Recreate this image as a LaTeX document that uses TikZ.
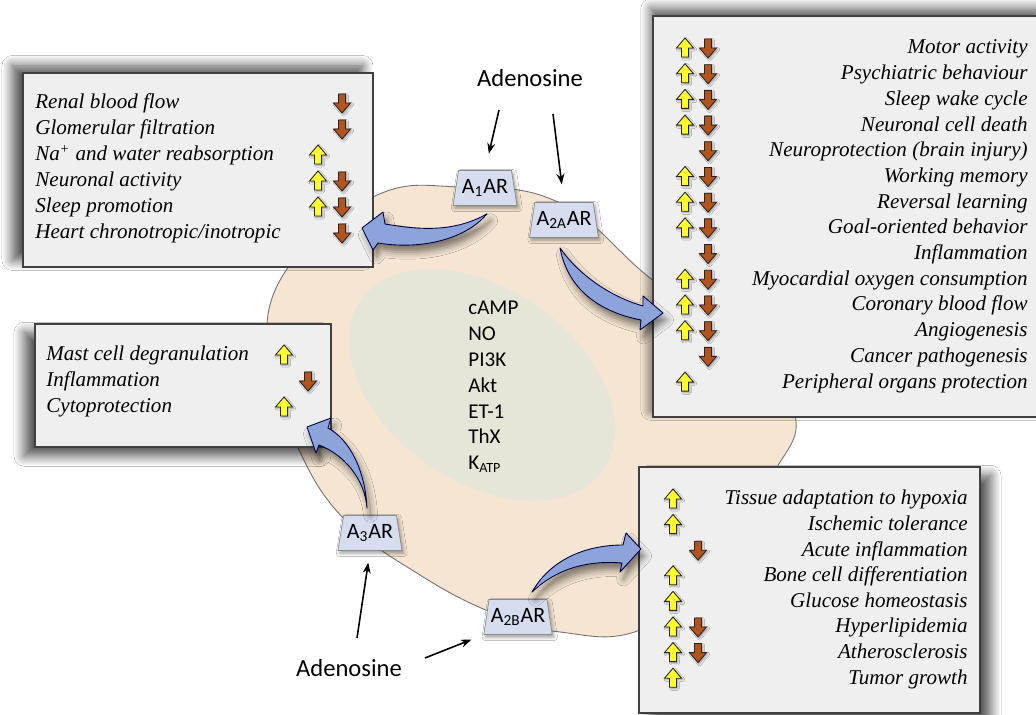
\documentclass[tikz,border=0pt]{standalone}
\usepackage{fontspec}
\setmainfont{Liberation Serif}
\newfontfamily\calib{Carlito}
\usetikzlibrary{arrows.meta,positioning,calc,shapes.geometric,shadows.blur}

\definecolor{cellfill}{HTML}{F5E5D2}
\definecolor{corefill}{HTML}{E6E6D8}
\definecolor{boxfill}{HTML}{EFEFEF}
\definecolor{recfill}{HTML}{D5DDEF}
\definecolor{fatblue}{HTML}{8DA4DB}
\definecolor{upyel}{HTML}{FFFF2E}
\definecolor{downbr}{HTML}{B4541C}

\begin{document}
\begin{tikzpicture}[x=0.02cm,y=-0.02cm,>=Stealth,
 effbox/.style={draw=black!75,fill=boxfill,line width=0.7pt,inner sep=0pt},
 boxshadow/.style 2 args={blur shadow={shadow xshift=#1,shadow yshift=#2,
   shadow blur radius=6pt,shadow blur steps=12,shadow opacity=70}},
 eff/.style={font=\fontsize{12}{14}\selectfont\itshape,inner sep=0pt},
 rec/.style={trapezium,trapezium stretches=true,trapezium left angle=76,trapezium right angle=76,
   minimum width=1.28cm,minimum height=0.7cm,inner sep=1pt,draw=black!45,fill=recfill,
   font=\calib\fontsize{12.5}{14}\selectfont,blur shadow={shadow xshift=1pt,shadow yshift=-1.5pt,shadow blur radius=2pt}},
 ligand/.style={font=\calib\fontsize{14}{16}\selectfont,inner sep=0pt},
 sig/.style={font=\calib\fontsize{12}{14}\selectfont,anchor=base west,inner sep=0pt},
 thin/.style={->,line width=0.9pt,arrows={-Stealth[length=6pt,width=4.5pt]}},
 fat/.style={fill=fatblue,draw=black!75!blue,line width=0.5pt,line join=round,
   blur shadow={shadow xshift=2pt,shadow yshift=-4pt,shadow blur radius=4pt,shadow opacity=50}},
 icon/.style={draw=black!85,line width=0.5pt,
   blur shadow={shadow xshift=0.8pt,shadow yshift=-0.8pt,shadow blur radius=1pt,shadow opacity=35}},
 upar/.pic={\draw[icon,fill=upyel]
   (-3.5,9)--(-3.5,0)--(-8.5,0)--(0,-10)--(8.5,0)--(3.5,0)--(3.5,9)--cycle;},
 dnar/.pic={\draw[icon,fill=downbr]
   (-3.5,-9)--(-3.5,0)--(-8.5,0)--(0,10)--(8.5,0)--(3.5,0)--(3.5,-9)--cycle;}]
\useasboundingbox[fill=white] (0,0) rectangle (1036,715);

% the cell and its core
\filldraw[fill=cellfill,draw=black!55,line width=0.5pt] plot[smooth cycle,tension=0.7] coordinates
 {(460,187) (560,203) (650,278) (740,345) (795,415) (770,480) (720,570) (640,630) (560,632)
  (493,613) (420,575) (345,520) (298,448) (268,360) (285,272) (373,197)};
\fill[corefill,rotate around={-35:(482,385)}] (482,385) ellipse [x radius=148,y radius=96];
\foreach \s [count=\i from 0] in {cAMP,NO,PI3K,Akt,ET-1,ThX,K\textsubscript{ATP}}
  \node[sig] (s\i) at (468,315+25.8*\i) {\s};

% effect boxes
\node[effbox,minimum width=7cm,minimum height=3.88cm,boxshadow={-6pt}{4pt}] (box1) at (198,170) {};
\node[effbox,minimum width=7.74cm,minimum height=8.02cm,boxshadow={-1pt}{4pt}] (box2) at (846.5,216.5) {};
\node[effbox,minimum width=5.92cm,minimum height=2.46cm,boxshadow={-6pt}{-5pt}] (box3) at (183,385.5) {};
\node[effbox,minimum width=6.82cm,minimum height=4.92cm,boxshadow={6pt}{-5pt}] (box4) at (809.5,590) {};

% A1 effects
\foreach \t/\u/\d [count=\i from 0] in {Renal blood flow/0/1,Glomerular filtration/0/1,
  Na\textsuperscript{+} and water reabsorption/1/0,Neuronal activity/1/1,Sleep promotion/1/1,
  {Heart chronotropic/inotropic}/0/1}{
  \node[eff,anchor=base west] (e1\i) at (35,109+26*\i) {\t};
  \ifnum\u=1 \pic at (318,103+26*\i) {upar};\fi
  \ifnum\d=1 \pic at (342,103+26*\i) {dnar};\fi
}
% A2A effects
\foreach \t/\u/\d [count=\i from 0] in {Motor activity/1/1,Psychiatric behaviour/1/1,
  Sleep wake cycle/1/1,Neuronal cell death/1/1,Neuroprotection (brain injury)/0/1,
  Working memory/1/1,Reversal learning/1/1,Goal-oriented behavior/1/1,Inflammation/0/1,
  Myocardial oxygen consumption/1/1,Coronary blood flow/1/1,Angiogenesis/1/1,
  Cancer pathogenesis/0/1,Peripheral organs protection/1/0}{
  \node[eff,anchor=base east] (e2\i) at (1028,54+25.7*\i) {\t};
  \ifnum\u=1 \pic at (685,48+25.7*\i) {upar};\fi
  \ifnum\d=1 \pic at (708,48+25.7*\i) {dnar};\fi
}
% A3 effects
\foreach \t/\u/\d [count=\i from 0] in {Mast cell degranulation/1/0,Inflammation/0/1,Cytoprotection/1/0}{
  \node[eff,anchor=base west] (e3\i) at (46,361+26*\i) {\t};
  \ifnum\u=1 \pic at (284,355+26*\i) {upar};\fi
  \ifnum\d=1 \pic at (308,355+26*\i) {dnar};\fi
}
% A2B effects
\foreach \t/\u/\d [count=\i from 0] in {Tissue adaptation to hypoxia/1/0,Ischemic tolerance/1/0,
  Acute inflammation/0/1,Bone cell differentiation/1/0,Glucose homeostasis/1/0,
  Hyperlipidemia/1/1,Atherosclerosis/1/1,Tumor growth/1/0}{
  \node[eff,anchor=base east] (e4\i) at (968,505+25.6*\i) {\t};
  \ifnum\u=1 \pic at (673,499+25.6*\i) {upar};\fi
  \ifnum\d=1 \pic at (698,499+25.6*\i) {dnar};\fi
}

% receptors
\node[rec] (a1) at (485,188) {A\textsubscript{1}AR};
\node[rec] (a2a) at (564,220) {A\textsubscript{2A}AR};
\node[rec] (a3) at (370,533) {A\textsubscript{3}AR};
\node[rec] (a2b) at (518,617) {A\textsubscript{2B}AR};

% adenosine
\node[ligand] (adoT) at (530,78) {Adenosine};
\node[ligand] (adoB) at (349,668) {Adenosine};
\coordinate (adoT1) at (499,110);
\coordinate (adoT2) at (553,114);
\coordinate (adoB1) at (357,638);
\coordinate (adoB2) at (425,658);
\draw[thin,shorten >=0.34cm] (adoT1) -- (a1.north);
\draw[thin,shorten >=0.36cm] (adoT2) -- (a2a.north);
\draw[thin,shorten >=0.24cm] (adoB1) -- (a3.south);
\draw[thin,shorten >=0.26cm] (adoB2) -- (a2b.bottom left corner);

% signalling arrows
\coordinate (t1) at ($(a1.south)+(2,8)$);
\coordinate (t2) at ($(a2a.south)+(-4,10)$);
\coordinate (t3) at ($(a3.north)+(-3,-7)$);
\coordinate (t4) at ($(a2b.north)+(14,-7)$);
\path[fat] (t1) .. controls (450,235) and (410,228) .. (385,224) -- (383,212) -- (362,228)
  -- (373,250) -- (378,243) .. controls (420,250) and (465,240) .. (t1) -- cycle;
\path[fat] (t2) .. controls (575,270) and (605,295) .. (643,306) -- (643,296) -- (663,313)
  -- (640,330) -- (641,320) .. controls (600,312) and (568,290) .. (t2) -- cycle;
\path[fat] (t3) .. controls (365,470) and (350,440) .. (328,428) -- (331,418) -- (307,427)
  -- (316,453) -- (319,445) .. controls (345,455) and (365,480) .. (t3) -- cycle;
\path[fat] (t4) .. controls (550,560) and (585,545) .. (623,545) -- (626,533) -- (641,549)
  -- (620,572) -- (622,563) .. controls (585,560) and (555,570) .. (t4) -- cycle;
\end{tikzpicture}
\end{document}
